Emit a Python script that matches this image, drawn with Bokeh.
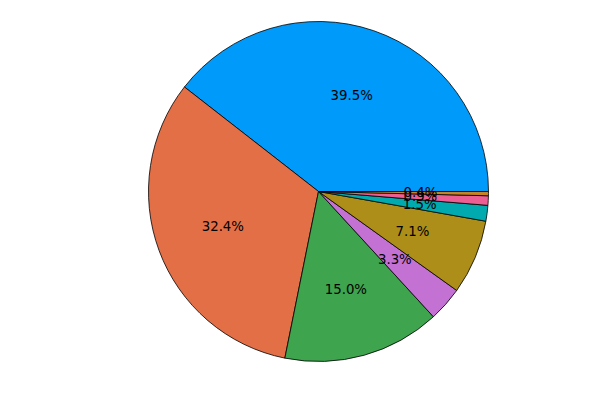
import numpy as np
from bokeh.plotting import figure
from bokeh.models import Range1d, ColumnDataSource
from bokeh.core.properties import value
from bokeh.embed import file_html
from bokeh.resources import INLINE

labels = ["A", "B", "C", "D", "E", "F", "G", "H"]
shares = [39.5, 32.4, 15.0, 3.3, 7.1, 1.5, 0.9, 0.4]
colors = ["#009AFA", "#E36F47", "#3EA44E", "#C371D2", "#AC8E18", "#00AAAE", "#ED5E93", "#C68225"]

vals = np.array(shares, dtype=float)
frac = vals / vals.sum()
ends = np.cumsum(frac) * 2 * np.pi
starts = ends - frac * 2 * np.pi
mids = (starts + ends) / 2
pct_text = [f"{v:.1f}%" for v in shares]

src = ColumnDataSource(dict(start=starts, end=ends, color=colors,
                            lx=0.6 * np.cos(mids), ly=0.6 * np.sin(mids), txt=pct_text))

R = 170.0
p = figure(width=584, height=384, output_backend="svg", toolbar_location=None,
           x_range=Range1d(-318 / R, 266 / R), y_range=Range1d(-193 / R, 191 / R),
           min_border=0)
p.axis.visible = False
p.grid.visible = False
p.outline_line_color = None
p.background_fill_color = "white"

p.wedge(x=0, y=0, radius=1, start_angle="start", end_angle="end",
        fill_color="color", line_color="black", line_width=0.8, source=src)
p.text(x="lx", y="ly", text="txt", source=src, text_align="center",
       text_baseline="middle", text_font=value("DejaVu Sans"),
       text_font_size="13.3px", text_color="black")

open("out.html", "w").write(file_html(p, INLINE))
